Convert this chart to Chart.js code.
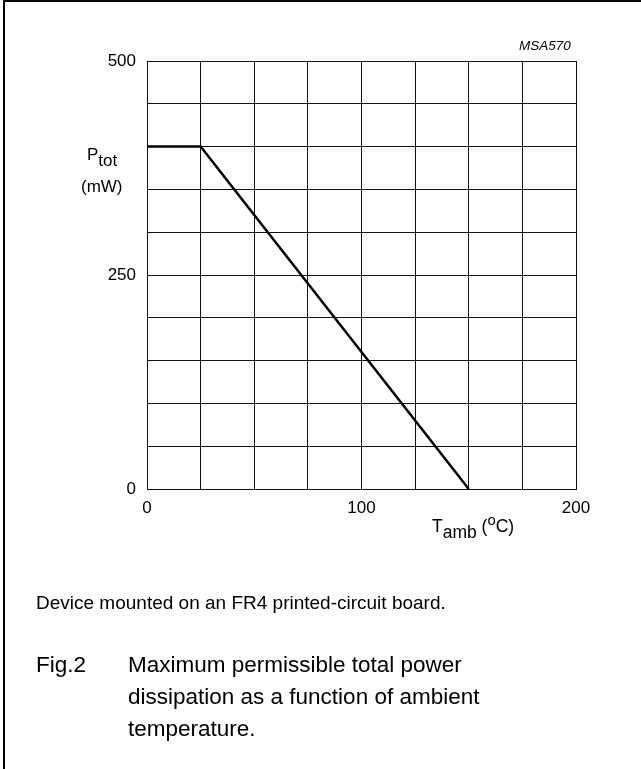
<!DOCTYPE html>
<html>
<head>
<meta charset="utf-8">
<script src="https://cdn.jsdelivr.net/npm/chart.js@4"></script>
<style>
  html, body { margin: 0; padding: 0; background: #fff; }
  body { width: 641px; height: 769px; position: relative; overflow: hidden;
         font-family: "Liberation Sans", Arial, sans-serif; color: #000; }
  #frame { position: absolute; left: 3px; top: 0; width: 700px; height: 800px;
           border-left: 2px solid #000; border-top: 2px solid #000; }
  #mainChart { position: absolute; left: 0; top: 0; }
  .lbl { position: absolute; white-space: nowrap; line-height: 1; }
  sub { font-size: 100%; vertical-align: -6px; }
  sup { font-size: 85%; vertical-align: 7px; }
</style>
</head>
<body>
<div id="frame"></div>
<canvas id="mainChart" width="641" height="769"></canvas>

<div class="lbl" style="left:519px; top:39px; font-size:13.5px; font-style:italic;">MSA570</div>
<div class="lbl" style="left:87px; top:146px; font-size:17px;">P<sub>tot</sub></div>
<div class="lbl" style="left:81px; top:178px; font-size:17px;">(mW)</div>
<div class="lbl" style="left:432px; top:513px; font-size:17.5px;">T<sub>amb</sub> (<sup>o</sup>C)</div>

<div class="lbl" style="left:36px; top:593px; font-size:19px;">Device mounted on an FR4 printed-circuit board.</div>
<div class="lbl" style="left:36px; top:649px; font-size:22.5px; line-height:32px;">Fig.2</div>
<div class="lbl" style="left:128px; top:649px; font-size:22.5px; line-height:32px;">
  Maximum permissible total power<br>dissipation as a function of ambient<br>temperature.
</div>

<script>
const main = document.getElementById("mainChart");

// ambient temperature (deg C) and total power (mW) along the derating curve
let tempValues = [0, 25, 150];
let powerValues = [400, 400, 0];

let xLabels = [0, 100, 200];
let yLabels = [0, 250, 500];

let points = tempValues.map((t, i) => ({ x: t, y: powerValues[i] }));

new Chart(main, {
    type: "scatter",
    data: {
        datasets: [{
            data: points,
            showLine: true,
            borderColor: "#000",
            borderWidth: 2.5,
            pointRadius: 0,
            fill: false
        }]
    },
    options: {
        responsive: false,
        animation: false,
        events: [],
        layout: { padding: { left: 87, top: 61, right: 65, bottom: 240 } },
        plugins: {
            legend: { display: false },
            tooltip: { enabled: false }
        },
        scales: {
            x: {
                type: "linear",
                min: 0,
                max: 200,
                afterFit: (s) => { s.height = 40; },
                grid: { color: "#111", lineWidth: 1, tickLength: 0 },
                border: { color: "#111", width: 1 },
                ticks: {
                    stepSize: 25,
                    padding: 9,
                    maxRotation: 0,
                    autoSkip: false,
                    color: "#000",
                    font: { family: "'Liberation Sans', Arial", size: 17 },
                    callback: (v) => xLabels.includes(v) ? String(v) : ""
                }
            },
            y: {
                type: "linear",
                min: 0,
                max: 500,
                afterFit: (s) => { s.width = 60; },
                grid: { color: "#111", lineWidth: 1, tickLength: 0 },
                border: { color: "#111", width: 1 },
                ticks: {
                    stepSize: 50,
                    padding: 11,
                    autoSkip: false,
                    color: "#000",
                    font: { family: "'Liberation Sans', Arial", size: 17 },
                    callback: (v) => yLabels.includes(v) ? String(v) : ""
                }
            }
        }
    }
});
</script>
</body>
</html>
